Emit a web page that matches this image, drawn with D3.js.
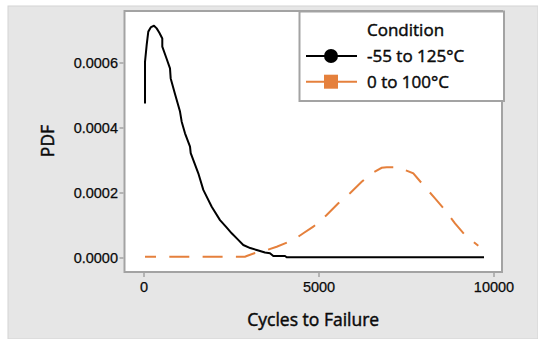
<!DOCTYPE html>
<html>
<head>
<meta charset="utf-8">
<script src="https://cdn.jsdelivr.net/npm/d3@7"></script>
<style>
  html, body { margin: 0; padding: 0; background: #ffffff; }
  svg { display: block; font-family: "Open Sans", "Noto Sans", sans-serif; }
</style>
</head>
<body>
<svg id="chart" width="538" height="339"></svg>
<script>
// ---- data ----
const seriesNames = ["-55 to 125\u00B0C", "0 to 100\u00B0C"];
const legendTitle = "Condition";
const xTicks = [0, 5000, 10000];
const xTickLabels = ["0", "5000", "10000"];
const yTicks = [0, 0.0002, 0.0004, 0.0006];
const yTickLabels = ["0.0000", "0.0002", "0.0004", "0.0006"];

const hotX = [43, 43, 91, 137, 214, 300, 377, 457, 537, 537, 643, 757, 777, 900, 1043, 1091, 1186, 1329, 1349, 1566, 1709, 1949, 2186, 2360, 2520, 2700, 2851, 3050, 3234, 3471, 3614, 3709, 4043, 4091, 9729];
const hotY = [0.000474, 0.000602, 0.000654, 0.000695, 0.000709, 0.000713, 0.000705, 0.000691, 0.000674, 0.000649, 0.000617, 0.000582, 0.000551, 0.000503, 0.000449, 0.000418, 0.000382, 0.000341, 0.000321, 0.000259, 0.000208, 0.000156, 0.000115, 0.000094, 0.0000745, 0.000055, 0.0000385, 0.000029, 0.0000231, 0.0000154, 0.0000129, 0.0000046, 0.0000046, 0.0000006, 0.0000006];

const mildX = [43, 2900, 2949, 3186, 3471, 3806, 4280, 4566, 4851, 5234, 5566, 5900, 6234, 6520, 6806, 6949, 7100, 7280, 7471, 7709, 7994, 8329, 8614, 8900, 9186, 9566];
const mildY = [0.0000025, 0.0000025, 0.0000046, 0.0000138, 0.0000209, 0.0000332, 0.0000538, 0.0000745, 0.0000948, 0.000131, 0.000167, 0.000198, 0.000233, 0.000259, 0.000276, 0.000278, 0.000278, 0.000278, 0.000269, 0.000259, 0.000223, 0.000182, 0.000146, 0.000105, 0.0000692, 0.0000363];

// ---- layout ----
const svg = d3.select("#chart");
const plot = { left: 124.5, right: 502, top: 11, bottom: 272 };
const orange = "#E5803C";
const frameGray = "#a3a3a3";
const textCol = "#0a0a0a";

const x = d3.scaleLinear()
  .domain([(plot.left - 143.5) / 0.035, (plot.right - 143.5) / 0.035])
  .range([plot.left, plot.right]);
const y = d3.scaleLinear()
  .domain([(257.5 - plot.bottom) / 325000, (257.5 - plot.top) / 325000])
  .range([plot.bottom, plot.top]);

// background panel
svg.append("rect").attr("x", 8).attr("y", 6).attr("width", 538 - 8).attr("height", 339 - 6)
  .attr("fill", "#e6e6e6").attr("stroke", "#d4d4d4").attr("stroke-width", 1);

// plot area
svg.append("rect").attr("x", plot.left).attr("y", plot.top)
  .attr("width", plot.right - plot.left).attr("height", plot.bottom - plot.top)
  .attr("fill", "#ffffff").attr("stroke", frameGray).attr("stroke-width", 2);

// axes
const xAxis = d3.axisBottom(x).tickValues(xTicks).tickFormat((d, i) => xTickLabels[i]).tickSize(4).tickSizeOuter(0);
const gx = svg.append("g").attr("transform", `translate(0,${plot.bottom + 1})`).call(xAxis);
gx.select(".domain").remove();
gx.selectAll(".tick line").attr("stroke", frameGray).attr("stroke-width", 1.5);
gx.selectAll(".tick text").attr("fill", textCol).attr("font-size", "14.5px")
  .attr("stroke", textCol).attr("stroke-width", 0.25)
  .attr("dy", "0.71em").attr("y", 8.5);

const yAxis = d3.axisLeft(y).tickValues(yTicks).tickFormat((d, i) => yTickLabels[i]).tickSize(4).tickSizeOuter(0);
const gy = svg.append("g").attr("transform", `translate(${plot.left - 1},0)`).call(yAxis);
gy.select(".domain").remove();
gy.selectAll(".tick line").attr("stroke", frameGray).attr("stroke-width", 1.5);
gy.selectAll(".tick text").attr("fill", textCol).attr("font-size", "14.5px")
  .attr("stroke", textCol).attr("stroke-width", 0.25)
  .attr("x", -5.5).attr("dy", "0.36em");

// axis titles
svg.append("text").attr("x", (plot.left + plot.right) / 2).attr("y", 320).attr("dy", "0.36em")
  .attr("text-anchor", "middle").attr("font-size", "17.5px")
  .attr("stroke", textCol).attr("stroke-width", 0.45)
  .attr("fill", textCol).text("Cycles to Failure");
svg.append("text").attr("transform", `translate(48,141) rotate(-90)`).attr("dy", "0.36em")
  .attr("text-anchor", "middle").attr("font-size", "17.5px")
  .attr("stroke", textCol).attr("stroke-width", 0.45)
  .attr("fill", textCol).text("PDF");

// curves
const line = d3.line().x(d => x(d[0])).y(d => y(d[1]));
const hot = hotX.map((v, i) => [v, hotY[i]]);
const mild = mildX.map((v, i) => [v, mildY[i]]);

svg.append("path").datum(mild).attr("d", line).attr("fill", "none")
  .attr("stroke", orange).attr("stroke-width", 2).attr("stroke-dasharray", "20,13.3").attr("stroke-dashoffset", 9);
svg.append("path").datum(hot).attr("d", line).attr("fill", "none")
  .attr("stroke", "#000").attr("stroke-width", 2).attr("stroke-linejoin", "round");

// legend
const lg = svg.append("g");
lg.append("rect").attr("x", 299.5).attr("y", 11.5).attr("width", 204.5).attr("height", 89.5)
  .attr("fill", "#fff").attr("stroke", frameGray).attr("stroke-width", 2);
lg.append("text").attr("x", 367).attr("y", 30).attr("dy", "0.36em").attr("font-size", "17px")
  .attr("stroke", textCol).attr("stroke-width", 0.45)
  .attr("fill", textCol).text(legendTitle);
const rowsY = [56, 81.7];
const colors = ["#000", orange];
rowsY.forEach((ry, i) => {
  lg.append("line").attr("x1", 306).attr("x2", 357).attr("y1", ry).attr("y2", ry)
    .attr("stroke", colors[i]).attr("stroke-width", 2);
  if (i === 0) {
    lg.append("circle").attr("cx", 331).attr("cy", ry).attr("r", 7).attr("fill", "#000");
  } else {
    lg.append("rect").attr("x", 331 - 7).attr("y", ry - 7).attr("width", 14).attr("height", 14).attr("fill", orange);
  }
  lg.append("text").attr("x", 367).attr("y", ry).attr("dy", "0.36em").attr("font-size", "17px")
    .attr("stroke", textCol).attr("stroke-width", 0.45)
    .attr("fill", textCol).text(seriesNames[i]);
});
</script>
</body>
</html>
